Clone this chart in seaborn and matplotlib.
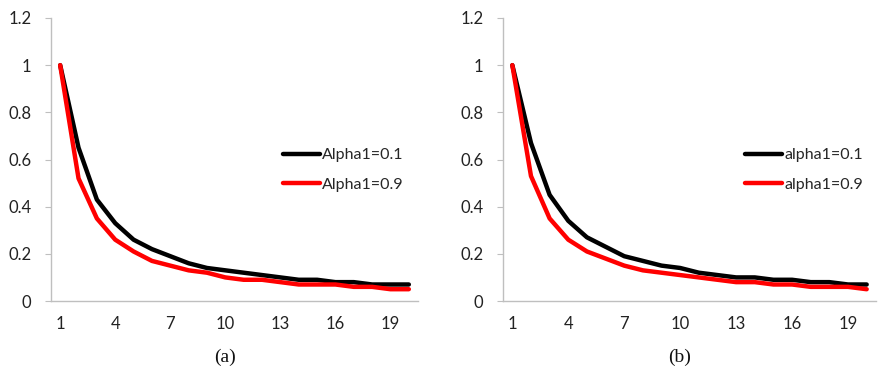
import numpy as np
import pandas as pd
import matplotlib
matplotlib.use("Agg")
import matplotlib.pyplot as plt
from matplotlib.ticker import FixedLocator
import seaborn as sns

# iteration index
steps = list(range(1, 21))

# panel (a): Alpha1 settings
a_low = [1.00, 0.65, 0.43, 0.33, 0.26, 0.22, 0.19, 0.16, 0.14, 0.13,
         0.12, 0.11, 0.10, 0.09, 0.09, 0.08, 0.08, 0.07, 0.07, 0.07]
a_high = [1.00, 0.52, 0.35, 0.26, 0.21, 0.17, 0.15, 0.13, 0.12, 0.10,
          0.09, 0.09, 0.08, 0.07, 0.07, 0.07, 0.06, 0.06, 0.05, 0.05]

# panel (b): alpha1 settings
b_low = [1.00, 0.67, 0.45, 0.34, 0.27, 0.23, 0.19, 0.17, 0.15, 0.14,
         0.12, 0.11, 0.10, 0.10, 0.09, 0.09, 0.08, 0.08, 0.07, 0.07]
b_high = [1.00, 0.53, 0.35, 0.26, 0.21, 0.18, 0.15, 0.13, 0.12, 0.11,
          0.10, 0.09, 0.08, 0.08, 0.07, 0.07, 0.06, 0.06, 0.06, 0.05]

labels_a = ["Alpha1=0.1", "Alpha1=0.9"]
labels_b = ["alpha1=0.1", "alpha1=0.9"]
captions = ["(a)", "(b)"]
x_tick_labels = [1, 4, 7, 10, 13, 16, 19]
y_ticks = [0, 0.2, 0.4, 0.6, 0.8, 1.0, 1.2]
y_tick_labels = ["0", "0.2", "0.4", "0.6", "0.8", "1", "1.2"]

sns.set_style("white")
plt.rcParams["font.family"] = ["Lato", "DejaVu Sans"]

W, H = 882, 369
fig = plt.figure(figsize=(W / 100, H / 100), dpi=100)

def make_frame(low, high, names):
    return pd.DataFrame({
        "step": steps * 2,
        "value": low + high,
        "series": [names[0]] * len(steps) + [names[1]] * len(steps),
    })

panels = [
    (make_frame(a_low, a_high, labels_a), labels_a, (51, 418), 283, captions[0]),
    (make_frame(b_low, b_high, labels_b), labels_b, (503, 876), 745, captions[1]),
]

axis_gray = "#bfbfbf"
top_px, bottom_px = 18, 301
lw = 3.2

for df, names, (x0, x1), leg_x, cap in panels:
    ax = fig.add_axes([x0 / W, 1 - bottom_px / H, (x1 - x0) / W, (bottom_px - top_px) / H])
    sns.lineplot(data=df, x="step", y="value", hue="series", hue_order=names,
                 palette=["#000000", "#ff0000"], linewidth=lw, ax=ax,
                 legend=False)
    ax.set_xlim(0.5, 20.5)
    ax.set_ylim(0, 1.2)
    ax.set_xlabel("")
    ax.set_ylabel("")

    for side in ["top", "right"]:
        ax.spines[side].set_visible(False)
    for side in ["left", "bottom"]:
        ax.spines[side].set_color(axis_gray)
        ax.spines[side].set_linewidth(1.0)

    # category boundary ticks on x, labels centred on categories
    ax.xaxis.set_major_locator(FixedLocator(np.arange(0.5, 21, 1.0)))
    ax.tick_params(axis="x", which="major", length=4, color=axis_gray,
                   labelbottom=False, direction="out")
    ax.set_xticks(x_tick_labels, minor=True)
    ax.set_xticklabels([str(v) for v in x_tick_labels], minor=True)
    ax.tick_params(axis="x", which="minor", length=0, pad=11,
                   labelsize=12, labelcolor="#222222")

    ax.set_yticks(y_ticks)
    ax.set_yticklabels(y_tick_labels)
    ax.tick_params(axis="y", length=4, color=axis_gray, pad=10,
                   labelsize=12, labelcolor="#222222", left=True)

    handles = [plt.Line2D([], [], color="#000000", linewidth=lw),
               plt.Line2D([], [], color="#ff0000", linewidth=lw)]
    fig.legend(handles, names, loc="center left",
               bbox_to_anchor=(leg_x / W, 1 - 170 / H),
               frameon=False, fontsize=11.5, handlelength=2.3,
               handletextpad=0.15, labelspacing=0.95, borderpad=0,
               borderaxespad=0)

    fig.text(((x0 + x1) / 2 - 10) / W, 1 - 357 / H, cap,
             family=["Liberation Serif", "DejaVu Serif"], fontsize=14,
             ha="center", va="center", color="#111111")

fig.savefig("out.png", dpi=100)
